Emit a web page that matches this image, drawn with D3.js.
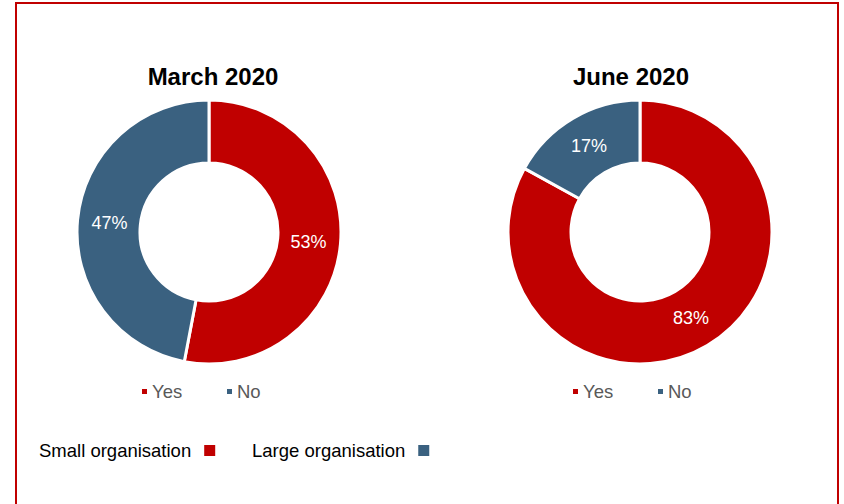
<!DOCTYPE html>
<html>
<head>
<meta charset="utf-8">
<script src="https://cdn.jsdelivr.net/npm/d3@7"></script>
<style>
    body { margin: 0; background: #fff; }
    svg { display: block; font-family: "Liberation Sans", Arial, sans-serif; }
</style>
</head>
<body>
<div id="chart"></div>
<script>
// data
var titles = ["March 2020", "June 2020"];
var categories = ["Yes", "No"];
var march = [53, 47];
var june = [83, 17];
var orgLabels = ["Small organisation", "Large organisation"];

let width = 844;
let height = 504;

var color = d3.scaleOrdinal()
    .domain(categories)
    .range(["#c00000", "#3a6180"]);

var svg = d3.select("#chart").append("svg")
    .attr("width", width)
    .attr("height", height);

// red frame
svg.append("rect")
    .attr("x", 16).attr("y", 3)
    .attr("width", 822).attr("height", 520)
    .attr("fill", "none")
    .attr("stroke", "#c00000")
    .attr("stroke-width", 2);

var pie = d3.pie().sort(null).value(function (d) { return d; });
var arc = d3.arc().innerRadius(69).outerRadius(132);
var labelArc = d3.arc().innerRadius(100).outerRadius(100);

var panels = [
    { title: titles[0], values: march, cx: 209, cy: 232, tx: 213 },
    { title: titles[1], values: june, cx: 640, cy: 232, tx: 631 }
];

panels.forEach(function (p) {
    svg.append("text")
        .attr("x", p.tx).attr("y", 85)
        .attr("text-anchor", "middle")
        .attr("font-size", "24px")
        .attr("font-weight", "bold")
        .attr("fill", "#000")
        .text(p.title);

    var g = svg.append("g").attr("transform", "translate(" + p.cx + "," + p.cy + ")");
    var arcs = pie(p.values);

    g.selectAll("path")
        .data(arcs)
        .enter()
        .append("path")
        .attr("d", arc)
        .attr("fill", function (d, i) { return color(categories[i]); })
        .attr("stroke", "#fff")
        .attr("stroke-width", 3);

    g.selectAll("text")
        .data(arcs)
        .enter()
        .append("text")
        .attr("transform", function (d) { return "translate(" + labelArc.centroid(d) + ")"; })
        .attr("dy", "0.35em")
        .attr("text-anchor", "middle")
        .attr("font-size", "18px")
        .attr("fill", "#fff")
        .text(function (d) { return d.data + "%"; });

    // Yes / No legend
    var leg = svg.append("g").attr("transform", "translate(" + (p.cx - 67) + ",392)");
    categories.forEach(function (c, i) {
        var lx = i * 85;
        leg.append("rect")
            .attr("x", lx).attr("y", -3)
            .attr("width", 5).attr("height", 5)
            .attr("fill", color(c));
        leg.append("text")
            .attr("x", lx + 10).attr("y", 0)
            .attr("dy", "0.35em")
            .attr("font-size", "18.5px")
            .attr("fill", "#595959")
            .text(c);
    });
});

// organisation legend
var orgX = [39, 252];
orgLabels.forEach(function (l, i) {
    var t = svg.append("text")
        .attr("x", orgX[i]).attr("y", 451)
        .attr("dy", "0.35em")
        .attr("font-size", "18.5px")
        .attr("fill", "#000")
        .text(l);
    var w = t.node().getComputedTextLength();
    svg.append("rect")
        .attr("x", orgX[i] + w + 13).attr("y", 445)
        .attr("width", 11).attr("height", 11)
        .attr("fill", color(categories[i]));
});
</script>
</body>
</html>
